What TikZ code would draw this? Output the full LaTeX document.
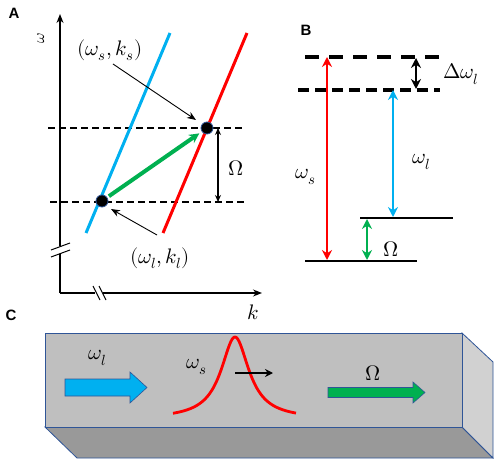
\documentclass[tikz,border=0pt]{standalone}
\usepackage{fontspec}
\usepackage{unicode-math}
\setmathfont{Latin Modern Math}
\newfontfamily\lblfont{Liberation Sans}
\usetikzlibrary{arrows.meta}
\definecolor{cblue}{HTML}{00B0F0}
\definecolor{cred}{HTML}{FF0000}
\definecolor{cgreen}{HTML}{00B050}
\definecolor{edgeblue}{HTML}{2F5597}
\tikzset{
  panel/.style={font=\lblfont\bfseries\fontsize{15}{18}\selectfont},
  mlab/.style={font=\fontsize{21}{24}\selectfont, inner sep=1pt},
  axis/.style={line width=1.4pt, -{Stealth[length=9pt,width=7pt]}},
  dashline/.style={line width=1.5pt, dash pattern=on 7pt off 4pt},
  dashT/.style={line width=3.5pt, dash pattern=on 14pt off 10pt},
  dashM/.style={line width=3.2pt, dash pattern=on 11pt off 6pt},
  level/.style={line width=2.6pt},
  dbl/.style={line width=2.4pt, {Stealth[length=10pt,width=10pt]}-{Stealth[length=10pt,width=10pt]}},
  dot/.style={circle, fill=black, draw=edgeblue, line width=0.8pt, minimum size=12pt, inner sep=0pt},
  pointer/.style={line width=0.9pt, -{Stealth[length=9pt,width=7pt]}},
  brk/.style={line width=1pt},
}
\begin{document}
\begin{tikzpicture}[x=1pt,y=-1pt]
\useasboundingbox (0,0) rectangle (498,465);
% ---------- Panel A ----------
\node[panel] (lA) at (14,13) {A};
\coordinate (o) at (60,293);
\coordinate (ytop) at (60,14);
\coordinate (xend) at (262,293);
\draw[axis] (o) -- (ytop);
\draw[axis] (o) -- (xend);
\node[mlab, rotate=90, font=\fontsize{16}{18}\selectfont] (wax) at (41,38) {$\omega$};
\node[mlab] (kax) at (253,312) {$k$};
% axis breaks
\fill[white] (55,246) rectangle (65,254);
\draw[brk] (51,250) -- (70,243);
\draw[brk] (51,257) -- (70,250);
\fill[white] (95,286) rectangle (103,300);
\draw[brk] (93,286) -- (100,300);
\draw[brk] (99,286) -- (106,300);
% dashed lines
\coordinate (d1a) at (48,128); \coordinate (d1b) at (245,128);
\coordinate (d2a) at (50,202); \coordinate (d2b) at (245,202);
\draw[dashline] (d1a) -- (d1b);
\draw[dashline] (d2a) -- (d2b);
% dispersion lines
\coordinate (b1) at (86,233); \coordinate (b2) at (170,33);
\coordinate (r1) at (163,233); \coordinate (r2) at (247,33);
\draw[cblue, line width=3pt] (b1) -- (b2);
\draw[cred, line width=3pt] (r1) -- (r2);
% points
\node[dot] (ps) at (207,128) {};
\node[dot] (pl) at (102,201) {};
\draw[cgreen, line width=4pt, -{Stealth[length=10pt,width=10pt]}, shorten >=3pt, shorten <=2pt] (pl) -- (ps);
% Omega arrow
\coordinate (oa) at (218,128); \coordinate (ob) at (218,202);
\draw[line width=1.3pt, {Stealth[length=7pt,width=6pt]}-{Stealth[length=7pt,width=6pt]}] (oa) -- (ob);
\node[mlab] (om) at (236,168) {$\Omega$};
% labels
\node[mlab] (ls) at (110,50) {$(\omega_s,k_s)$};
\node[mlab] (ll) at (160,258) {$(\omega_l,k_l)$};
\coordinate (as) at (113,64); \coordinate (ae) at (196,120);
\draw[pointer] (as) -- (ae);
\coordinate (bs) at (157,235); \coordinate (be) at (111,209);
\draw[pointer] (bs) -- (be);
% ---------- Panel B ----------
\node[panel] (lB) at (306,30) {B};
\coordinate (t1) at (305,57); \coordinate (t2) at (440,57);
\coordinate (m1) at (298,90); \coordinate (m2) at (440,90);
\coordinate (u1) at (360,218); \coordinate (u2) at (453,218);
\coordinate (g1) at (305,261); \coordinate (g2) at (417,261);
\draw[dashT] (t1) -- (t2);
\draw[dashM] (m1) -- (m2);
\draw[level] (u1) -- (u2);
\draw[level] (g1) -- (g2);
\coordinate (ra) at (327,57); \coordinate (rb) at (327,260);
\draw[dbl, cred] (ra) -- (rb);
\coordinate (ba) at (393,90); \coordinate (bb) at (393,217);
\draw[dbl, cblue, line width=2.8pt] (ba) -- (bb);
\coordinate (ga) at (367,219); \coordinate (gb) at (367,260);
\draw[dbl, cgreen, line width=2.8pt] (ga) -- (gb);
\coordinate (ka) at (416,58); \coordinate (kb) at (416,89);
\draw[dbl, black, line width=2.4pt] (ka) -- (kb);
\node[mlab] (dw) at (461,74) {$\Delta\omega_l$};
\node[mlab] (wsB) at (306,177) {$\omega_s$};
\node[mlab] (wlB) at (421,162) {$\omega_l$};
\node[mlab] (omB) at (391,249) {$\Omega$};
% ---------- Panel C ----------
\node[panel] (lC) at (11,315) {C};
\coordinate (f1) at (45,333); \coordinate (f2) at (462,333);
\coordinate (f3) at (462,427); \coordinate (f4) at (45,427);
\coordinate (k2) at (493,362); \coordinate (k3) at (493,458); \coordinate (k4) at (77,458);
\draw[edgeblue, line width=0.8pt, fill=black!40] (f4) -- (f3) -- (k3) -- (k4) -- cycle;
\draw[edgeblue, line width=0.8pt, fill=black!18] (f2) -- (k2) -- (k3) -- (f3) -- cycle;
\draw[edgeblue, line width=0.8pt, fill=black!25] (f1) rectangle (f3);
% blue block arrow
\draw[edgeblue, line width=0.6pt, fill=cblue] (65,379) -- (130,379) -- (130,372) -- (147,387.5) -- (130,403) -- (130,396) -- (65,396) -- cycle;
\node[mlab] (wlC) at (97,358) {$\omega_l$};
% pulse
\draw[cred, line width=2.8pt] plot[domain=173:296, samples=120, smooth] (\x, {419 - 82/(1+((\x-235)/17)^2)});
\node[mlab] (wsC) at (197,367) {$\omega_s$};
\coordinate (pa) at (235,373); \coordinate (pb) at (273,373);
\draw[line width=1.8pt, -{Stealth[length=8pt,width=8pt]}] (pa) -- (pb);
% green block arrow
\draw[edgeblue, line width=0.6pt, fill=cgreen] (328,387.5) -- (413,387.5) -- (413,382) -- (425,392.5) -- (413,403) -- (413,397.5) -- (328,397.5) -- cycle;
\node[mlab] (omC) at (373,373) {$\Omega$};
\end{tikzpicture}
\end{document}
